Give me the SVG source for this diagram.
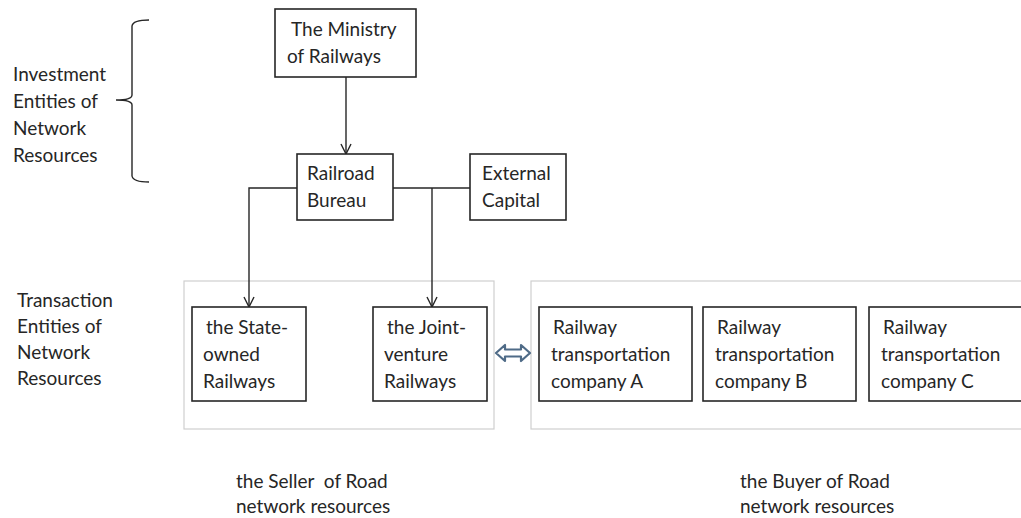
<svg xmlns="http://www.w3.org/2000/svg" width="1021" height="518" viewBox="0 0 1021 518">
<defs>
<style>
text{font-family:Lato,"Open Sans","Liberation Sans",sans-serif;font-size:19px;fill:#262626}
.box{fill:#fff;stroke:#262626;stroke-width:1.6}
.grp{fill:none;stroke:#cfcfcf;stroke-width:1.2}
.ln{fill:none;stroke:#262626;stroke-width:1.4}
</style>
<marker id="arr" viewBox="0 0 12 12" refX="11" refY="6" markerWidth="12" markerHeight="12" markerUnits="userSpaceOnUse" orient="auto">
<path d="M1,1 L11,6 L1,11" fill="none" stroke="#262626" stroke-width="1.4"/>
</marker>
</defs>
<rect width="1021" height="518" fill="#fff"/>

<g id="label-investment">
<text x="13" y="81">Investment</text>
<text x="13" y="108">Entities of</text>
<text x="13" y="135">Network</text>
<text x="13" y="162">Resources</text>
<path class="ln" d="M149,20 Q133,20 132,26 L132,95 Q132,100 116,100 Q132,100 132,105 L132,176 Q133,182 149,182"/>
</g>

<g id="label-transaction">
<text x="17" y="307">Transaction</text>
<text x="17" y="333">Entities of</text>
<text x="17" y="359">Network</text>
<text x="17" y="385">Resources</text>
</g>

<g id="seller-group"><rect class="grp" x="184" y="281" width="310" height="148"/></g>
<g id="buyer-group"><rect class="grp" x="531" y="281" width="500" height="148"/></g>

<g id="connectors">
<line class="ln" x1="346" y1="77" x2="346" y2="154" marker-end="url(#arr)"/>
<polyline class="ln" points="297,188 249,188 249,307" marker-end="url(#arr)"/>
<line class="ln" x1="393" y1="188" x2="470" y2="188"/>
<line class="ln" x1="432" y1="188" x2="432" y2="307" marker-end="url(#arr)"/>
<path d="M496,353 L505,345 L505,349.5 L521,349.5 L521,345 L530,353 L521,361 L521,356.5 L505,356.5 L505,361 Z" fill="#fff" stroke="#4f6b87" stroke-width="2.2" stroke-linejoin="round"/>
</g>

<g id="ministry">
<rect class="box" x="275" y="9" width="141" height="68"/>
<text x="291" y="36">The Ministry</text>
<text x="287" y="63">of Railways</text>
</g>

<g id="bureau">
<rect class="box" x="297" y="154" width="96" height="66"/>
<text x="307" y="180">Railroad</text>
<text x="307" y="207">Bureau</text>
</g>

<g id="capital">
<rect class="box" x="470" y="154" width="96" height="66"/>
<text x="482" y="180">External</text>
<text x="482" y="207">Capital</text>
</g>

<g id="state-owned">
<rect class="box" x="192" y="307" width="114" height="94"/>
<text x="206" y="334">the State-</text>
<text x="203" y="361">owned</text>
<text x="203" y="388">Railways</text>
</g>

<g id="joint-venture">
<rect class="box" x="373" y="307" width="114" height="94"/>
<text x="387" y="334">the Joint-</text>
<text x="384" y="361">venture</text>
<text x="384" y="388">Railways</text>
</g>

<g id="company-a">
<rect class="box" x="539" y="307" width="153" height="94"/>
<text x="553" y="334">Railway</text>
<text x="551" y="361">transportation</text>
<text x="551" y="388">company A</text>
</g>

<g id="company-b">
<rect class="box" x="703" y="307" width="153" height="94"/>
<text x="717" y="334">Railway</text>
<text x="715" y="361">transportation</text>
<text x="715" y="388">company B</text>
</g>

<g id="company-c">
<rect class="box" x="869" y="307" width="153" height="94"/>
<text x="883" y="334">Railway</text>
<text x="881" y="361">transportation</text>
<text x="881" y="388">company C</text>
</g>

<g id="label-seller">
<text x="236" y="488" style="white-space:pre">the Seller  of Road</text>
<text x="236" y="513">network resources</text>
</g>

<g id="label-buyer">
<text x="740" y="488">the Buyer of Road</text>
<text x="740" y="513">network resources</text>
</g>
</svg>
